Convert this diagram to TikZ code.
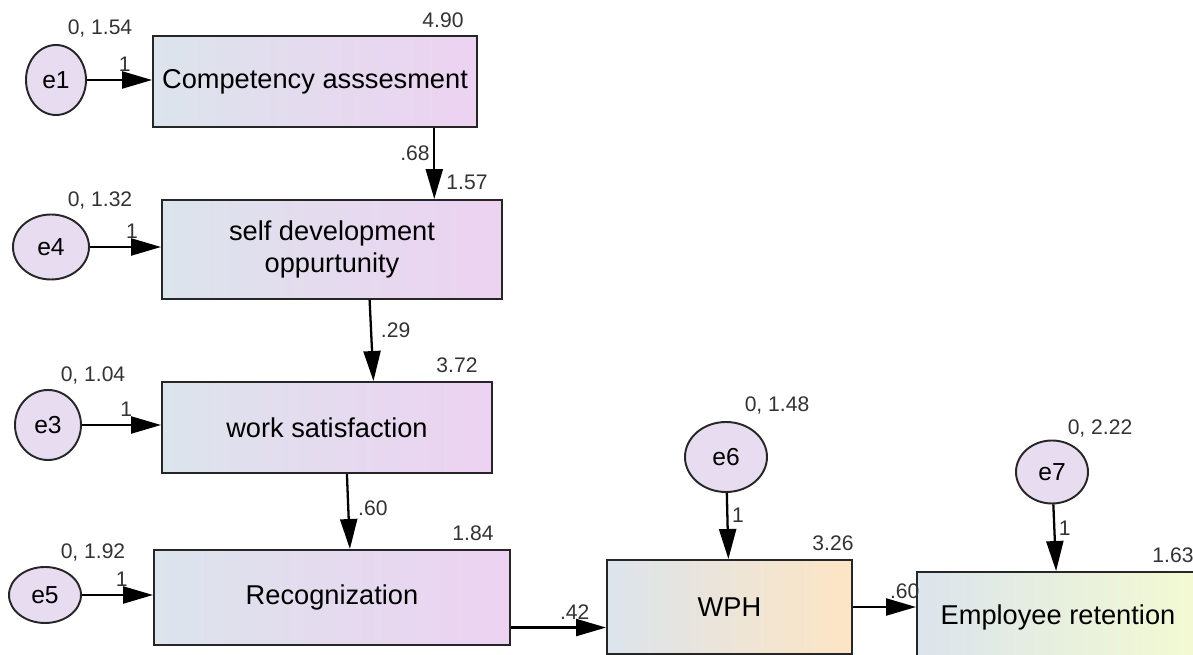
\documentclass[tikz,border=0pt]{standalone}
\usepackage{fontspec}
\setmainfont{Liberation Sans}
\usetikzlibrary{arrows.meta,shapes.geometric,calc}
\definecolor{boxL}{HTML}{DCE4EC}
\definecolor{boxR}{HTML}{EDD2F1}
\definecolor{wphR}{HTML}{FDE5C4}
\definecolor{retR}{HTML}{F3FAD2}
\definecolor{errFill}{HTML}{E8DCF1}

\begin{document}
\begin{tikzpicture}[x=0.2mm,y=-0.2mm]
\tikzset{BoxStyle/.style={draw=black!85,line width=1.1pt,inner sep=2pt,align=center,
    font=\fontsize{15.5}{18.5}\selectfont,left color=boxL,right color=boxR},
  ErrStyle/.style={ellipse,draw=black!85,line width=1.1pt,inner sep=0pt,fill=errFill,
    font=\fontsize{14}{16}\selectfont},
  ValStyle/.style={font=\fontsize{12}{14}\selectfont,text=black!80,inner sep=1pt},
  PathStyle/.style={line width=1.3pt,-{Triangle[length=6mm,width=3.4mm]}}}
\useasboundingbox (0,0) rectangle (1193,655);
\clip (0,0) rectangle (1193,655);
% observed variables
\node[BoxStyle,minimum width=64.8mm,minimum height=18.2mm] (CA) at (315,81.5) {Competency asssesment};
\node[BoxStyle,minimum width=68mm,minimum height=19.8mm] (SD) at (332,249.5) {self development\\oppurtunity};
\node[BoxStyle,minimum width=66mm,minimum height=18.2mm] (WS) at (327,427.5) {work satisfaction};
\node[BoxStyle,minimum width=71.2mm,minimum height=19mm] (RE) at (332,597.5) {Recognization};
\node[BoxStyle,minimum width=49mm,minimum height=18.8mm,right color=wphR] (WPH) at (729.5,607) {WPH};
\node[BoxStyle,minimum width=56.4mm,minimum height=18mm,right color=retR] (ER) at (1058,617) {Employee retention};
% errors
\node[ErrStyle,minimum width=12mm,minimum height=14mm] (e1) at (56,80) {e1};
\node[ErrStyle,minimum width=15.2mm,minimum height=13mm] (e4) at (51,247) {e4};
\node[ErrStyle,minimum width=13.2mm,minimum height=14mm] (e3) at (48,425) {e3};
\node[ErrStyle,minimum width=14.4mm,minimum height=11.2mm] (e5) at (45,595) {e5};
\node[ErrStyle,minimum width=16.4mm,minimum height=14mm] (e6) at (726,457) {e6};
\node[ErrStyle,minimum width=14.4mm,minimum height=12.6mm] (e7) at (1052,472) {e7};
% variances and intercepts
\node[ValStyle] (v1) at (100,28) {0, 1.54};
\node[ValStyle] (v4) at (100,200) {0, 1.32};
\node[ValStyle] (v3) at (93,375) {0, 1.04};
\node[ValStyle] (v5) at (93,552) {0, 1.92};
\node[ValStyle] (v6) at (777,405) {0, 1.48};
\node[ValStyle] (v7) at (1100,428) {0, 2.22};
\node[ValStyle] (iCA) at (443,20) {4.90};
\node[ValStyle] (iSD) at (467,182) {1.57};
\node[ValStyle] (iWS) at (457,365) {3.72};
\node[ValStyle] (iRE) at (473,533) {1.84};
\node[ValStyle] (iWPH) at (833,543) {3.26};
\node[ValStyle] (iER) at (1173,555) {1.63};
% paths
\draw[PathStyle] (e1) -- (e1 -| CA.west) node[ValStyle,pos=.58,above=3pt]{1};
\draw[PathStyle] (e4) -- (e4 -| SD.west) node[ValStyle,pos=.59,above=3pt]{1};
\draw[PathStyle] (e3) -- (e3 -| WS.west) node[ValStyle,pos=.56,above=3pt]{1};
\draw[PathStyle] (e5) -- (e5 -| RE.west) node[ValStyle,pos=.56,above=3pt]{1};
\draw[PathStyle] (e6) -- (WPH) node[ValStyle,pos=.34,right=1pt]{1};
\draw[PathStyle] (e7) -- (ER) node[ValStyle,pos=.36,right=1pt]{1};
\coordinate (a1) at ($(CA.south west)!.866!(CA.south east)$);
\draw[PathStyle] (a1) -- (a1 |- SD.north) node[ValStyle,pos=.36,left=1pt]{.68};
\draw[PathStyle] ($(SD.south west)!.61!(SD.south east)$) -- ($(WS.north west)!.64!(WS.north east)$)
  node[ValStyle,pos=.37,right=4pt]{.29};
\draw[PathStyle] ($(WS.south west)!.56!(WS.south east)$) -- ($(RE.north west)!.55!(RE.north east)$)
  node[ValStyle,pos=.45,right=4pt]{.60};
\coordinate (a2) at ($(RE.north east)!.81!(RE.south east)$);
\draw[PathStyle] (a2) -- (a2 -| WPH.west) node[ValStyle,pos=.67,above=3pt]{.42};
\draw[PathStyle] (WPH) -- (WPH -| ER.west) node[ValStyle,pos=.82,above=3pt]{.60};
\end{tikzpicture}
\end{document}
